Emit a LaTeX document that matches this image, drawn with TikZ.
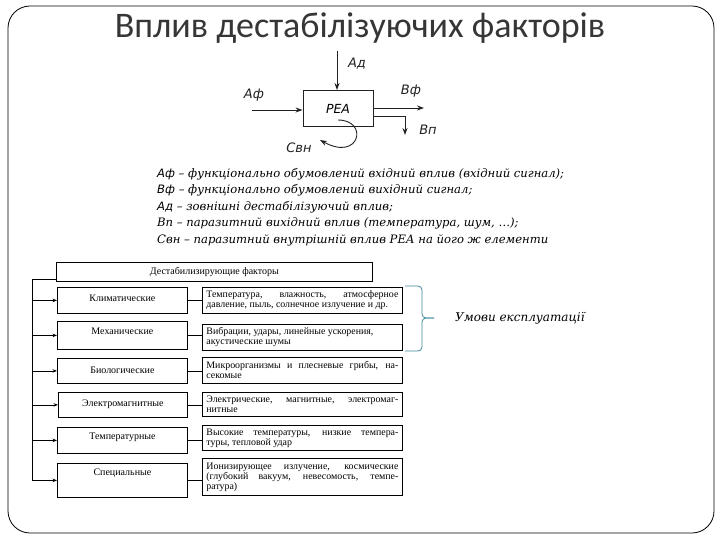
\documentclass[tikz,border=0pt]{standalone}
\usepackage{fontspec}
\setmainfont{Liberation Serif}
\newfontfamily\titlefont{Carlito}
\newfontfamily\dsans{DejaVu Sans}
\newfontfamily\dserif{DejaVu Serif}
\usetikzlibrary{arrows.meta,calc}
\definecolor{ttl}{HTML}{363636}
\definecolor{brc}{HTML}{3F8A9A}
\definecolor{ink}{HTML}{222222}
\begin{document}
\begin{tikzpicture}[x=1pt,y=-1pt,
  frame/.style={rounded corners=22pt, line width=0.8pt},
  topline/.style={draw=ink, line width=0.9pt},
  toparrow/.style={topline, -{Stealth[length=7pt,width=5pt]}},
  toplabel/.style={font=\dsans\itshape\fontsize{13}{15}\selectfont, inner sep=0pt, text=ink},
  legend/.style={anchor=west, inner sep=0pt, font=\dserif\itshape\fontsize{11.6}{13}\selectfont},
  boxline/.style={draw, line width=0.8pt, anchor=north west, inner sep=0pt},
  catbox/.style={boxline, minimum width=130pt},
  cattext/.style={inner sep=0pt, font=\fontsize{10}{11}\selectfont},
  descbox/.style={boxline, inner xsep=4pt, inner ysep=2pt, text width=192pt, align=justify,
    font=\fontsize{9.9}{10}\selectfont},
  conn/.style={line width=0.7pt},
  smallarrow/.style={line width=0.8pt, -{Stealth[length=4.5pt,width=3.5pt]}}
]
\useasboundingbox (0,0) rectangle (720,540);
\draw[frame] (8,6) rectangle (714,533);

% title
\node[font=\titlefont\fontsize{36}{40}\selectfont, text=ttl, inner sep=0pt] (title) at (360,28) {Вплив дестабілізуючих факторів};

% top block diagram
\node[topline, minimum width=70pt, minimum height=36pt, inner sep=0pt,
      font=\dsans\itshape\fontsize{12.5}{14}\selectfont] (rea) at (338,108.5) {РЕА};
\coordinate (adstart) at (337,51);
\draw[toparrow] (adstart) -- (adstart |- rea.north);
\coordinate (afstart) at (252,110);
\draw[toparrow] (afstart) -- (afstart -| rea.west);
\coordinate (vfend) at (424,108);
\draw[toparrow] (vfend -| rea.east) -- (vfend);
\coordinate (vpc) at (405,116);
\coordinate (vpend) at (405,135);
\draw[toparrow] (vpc -| rea.east) -- (vpc) -- (vpend);
\coordinate (svnstart) at (338,120);
\coordinate (svnend) at (320,140);
\draw[toparrow] (svnstart) .. controls (369,120) and (360,162) .. (svnend);

\node[toplabel] (lad) at (357,64) {Ад};
\node[toplabel] (laf) at (254,95) {Аф};
\node[toplabel] (lvf) at (411,91) {Вф};
\node[toplabel] (lvp) at (428,130) {Вп};
\node[toplabel] (lsvn) at (299,148) {Свн};

% legend
\node[legend] (g1) at (157,174) {{\dsans Аф} – функціонально обумовлений вхідний вплив (вхідний сигнал);};
\node[legend] (g2) at (157,190.5) {{\dsans Вф} – функціонально обумовлений вихідний сигнал;};
\node[legend] (g3) at (157,207) {{\dsans Ад} – зовнішні дестабілізуючий вплив;};
\node[legend] (g4) at (157,223.5) {Вп – паразитний вихідний вплив (температура, шум, …);};
\node[legend] (g5) at (157,240) {Свн – паразитний внутрішній вплив РЕА на його ж елементи};

% factor diagram
\node[boxline, minimum width=316pt, minimum height=19pt, font=\fontsize{10}{11}\selectfont] (hdr) at (56,262) {Дестабилизирующие факторы};

\node[catbox, minimum height=26pt] (k1) at (57,287) {};
\node[catbox, minimum height=28pt] (k2) at (57,321) {};
\node[catbox, minimum height=25pt] (k3) at (57,358) {};
\node[catbox, minimum height=25pt, minimum width=129pt] (k4) at (58,392) {};
\node[catbox, minimum height=26pt] (k5) at (57,427) {};
\node[catbox, minimum height=34pt] (k6) at (57,463) {};

\node[cattext] (k1t) at ($(k1.north)+(0,11)$) {Климатические};
\node[cattext] (k2t) at ($(k2.north)+(0,10)$) {Механические};
\node[cattext] (k3t) at ($(k3.north)+(0,12)$) {Биологические};
\node[cattext] (k4t) at ($(k4.north)+(0,12)$) {Электромагнитные};
\node[cattext] (k5t) at ($(k5.north)+(0,10)$) {Температурные};
\node[cattext] (k6t) at ($(k6.north)+(0,10)$) {Специальные};

\node[descbox, minimum height=26pt] (d1) at (202,287) {Температура, влажность, атмосферное\linebreak давление, пыль, солнечное излучение и~др.};
\node[descbox, minimum height=26pt] (d2) at (202,324) {Вибрации, удары, линейные ускорения,\newline акустические шумы};
\node[descbox, minimum height=26pt] (d3) at (202,357) {Микроорганизмы и плесневые грибы, на-\linebreak секомые};
\node[descbox, minimum height=24pt] (d4) at (202,392) {Электрические, магнитные, электромаг-\linebreak нитные};
\node[descbox, minimum height=25pt] (d5) at (202,425) {Высокие температуры, низкие темпера-\linebreak туры, тепловой удар};
\node[descbox, minimum height=37pt] (d6) at (202,458) {Ионизирующее излучение, космические\linebreak (глубокий вакуум, невесомость, темпе-\linebreak ратура)};

\foreach \k/\d in {k1/d1,k2/d2,k3/d3,k4/d4,k5/d5,k6/d6}{
  \draw[conn] (\k.east) -- (\k.east -| \d.west);
}

\coordinate (t0) at (32,279);
\draw[line width=0.9pt] (t0 -| hdr.west) -- (t0) -- (t0 |- k6.west);
\foreach \k in {k1,k2,k3,k4,k5,k6}{
  \draw[smallarrow] (t0 |- \k.west) -- (\k.west);
}

% brace
\coordinate (bt) at (405,286);
\coordinate (bb) at (405,351);
\coordinate (btip) at (434,318);
\draw[brc, line width=0.8pt, rounded corners=4pt] (bt) -- (422,286) -- (422,318) -- (btip);
\draw[brc, line width=0.8pt, rounded corners=4pt] (btip) -- (422,318) -- (422,351) -- (bb);
\node[anchor=west, inner sep=0pt, font=\dserif\itshape\fontsize{12}{13}\selectfont] (umovy) at (455,318) {Умови експлуатації};
\end{tikzpicture}
\end{document}
